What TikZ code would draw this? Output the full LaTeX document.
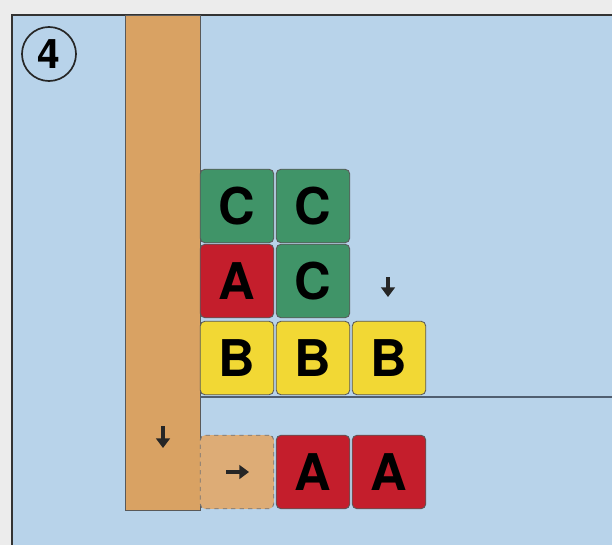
\documentclass[tikz,border=0pt]{standalone}
\usepackage{fontspec}
\setmainfont{TeX Gyre Heros}
\usetikzlibrary{arrows.meta,positioning}
\definecolor{paper}{RGB}{236,236,236}
\definecolor{skyblue}{RGB}{184,211,234}
\definecolor{tanbar}{RGB}{217,162,99}
\definecolor{tanlight}{RGB}{221,172,118}
\definecolor{greentile}{RGB}{64,148,104}
\definecolor{redtile}{RGB}{196,30,44}
\definecolor{yellowtile}{RGB}{242,216,52}
\definecolor{floorline}{RGB}{80,94,112}

\begin{document}
\begin{tikzpicture}[
    x=0.025cm, y=-0.025cm,
    tile/.style={rectangle, rounded corners=3.5pt, minimum size=1.84cm, inner sep=0pt,
                 draw=black!65, line width=0.6pt, font=\fontsize{36}{36}\selectfont\bfseries},
    ctile/.style={tile, fill=greentile},
    atile/.style={tile, fill=redtile},
    btile/.style={tile, fill=yellowtile},
    ghost/.style={tile, fill=tanlight, dashed, draw=black!55},
    hint/.style={-{Triangle[length=2.4mm, width=3.4mm]}, line width=2.4pt, draw=black!85}
]
\useasboundingbox (0,0) rectangle (612,545);
\fill[paper] (0,0) rectangle (612,545);
\fill[skyblue] (12,15) rectangle (612,545);
\draw[line width=1.6pt, draw=black!80] (12,545) -- (12,15) -- (612,15);

% pusher bar
\draw[fill=tanbar, draw=black!65, line width=0.6pt] (125,15) rectangle (200,510);

% step number
\node[circle, draw=black!85, line width=1.2pt, minimum size=1.35cm, inner sep=0pt,
      font=\fontsize{29}{29}\selectfont\bfseries] (num) at (49,54) {4};

% floor
\draw[line width=1.4pt, draw=floorline] (200,397) -- (612,397);

% stack
\node[ctile] (c1) at (237,206) {C};
\node[ctile] (c2) at (313,206) {C};
\node[atile] (a0) at (237,281) {A};
\node[ctile] (c3) at (313,281) {C};
\node[btile] (b1) at (237,358) {B};
\node[btile] (b2) at (313,358) {B};
\node[btile] (b3) at (389,358) {B};

% bottom row
\node[ghost] (g)  at (237,472) {};
\node[atile] (a1) at (313,472) {A};
\node[atile] (a2) at (389,472) {A};

% movement hints
\coordinate (dn1s) at (388,277); \coordinate (dn1e) at (388,297);
\coordinate (dn2s) at (163,426); \coordinate (dn2e) at (163,448);
\coordinate (rts)  at (226,472); \coordinate (rte)  at (249,472);
\draw[hint] (dn1s) -- (dn1e);
\draw[hint] (dn2s) -- (dn2e);
\draw[hint] (rts) -- (rte);
\end{tikzpicture}
\end{document}
